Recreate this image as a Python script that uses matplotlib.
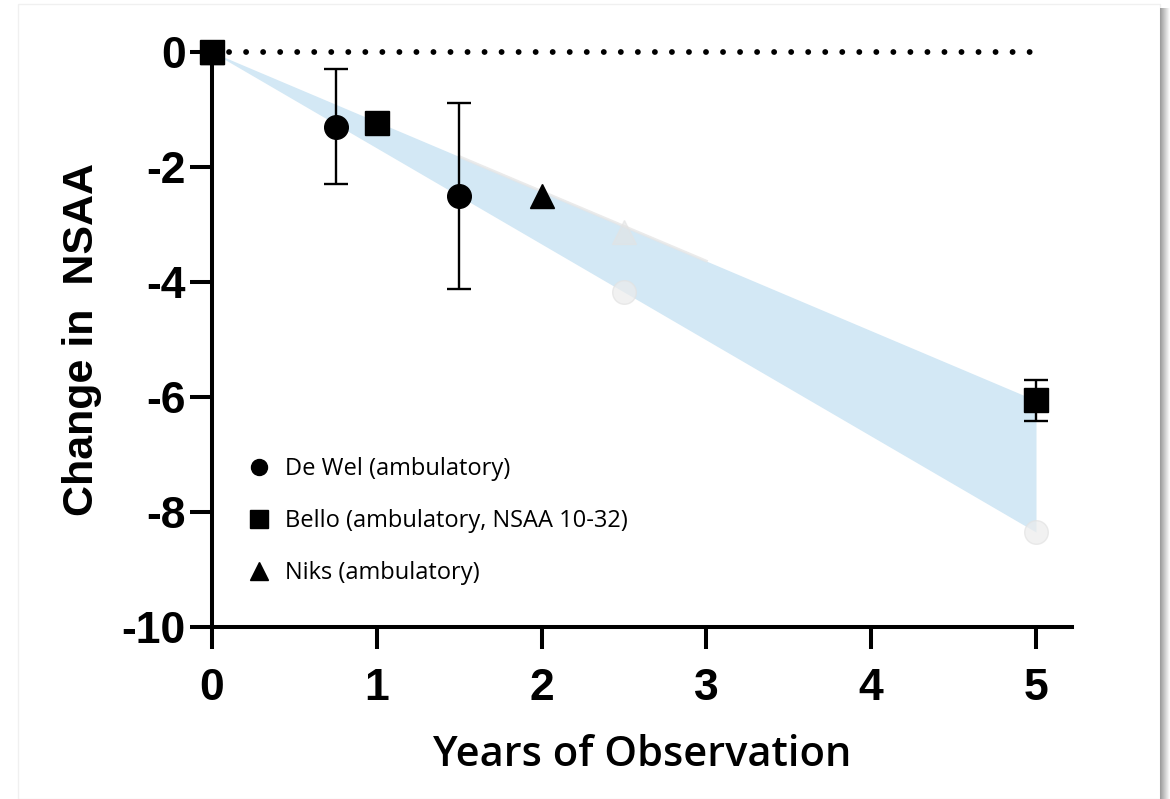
import matplotlib
matplotlib.use('Agg')
import matplotlib.pyplot as plt
import numpy as np
from matplotlib.lines import Line2D
from matplotlib.patches import Rectangle

# ---------------- data ----------------
dewel_x = [0, 0.75, 1.5]
dewel_y = [0, -1.3, -2.5]
dewel_err = [0, 1.0, 1.62]

bello_x = [0, 1, 5]
bello_y = [0, -1.23, -6.06]
bello_err = [0, 0, 0.35]

niks_x = [0, 2]
niks_y = [0, -2.5]

faint_tri_x = [2.5]
faint_tri_y = [-3.13]
faint_circ_x = [2.5, 5]
faint_circ_y = [-4.17, -8.35]

band_x = [0, 5]
band_upper = [0, -6.06]
band_lower = [0, -8.35]

edge_x = [1.5, 3.0]
edge_y = [-1.818, -3.636]

ref_x = [0, 4.97]
ref_y = [0, 0]

xticks = [0, 1, 2, 3, 4, 5]
yticks = [-10, -8, -6, -4, -2, 0]
legend_labels = ["De Wel (ambulatory)", "Bello (ambulatory, NSAA 10-32)", "Niks (ambulatory)"]

# ---------------- figure ----------------
W, H = 1170, 799
fig = plt.figure(figsize=(W / 100, H / 100), dpi=100)
fig.patch.set_facecolor('white')

# card outline + right shadow
card = Rectangle((18 / W, 0), (1160 - 18) / W, 1 - 4 / H, transform=fig.transFigure,
                 facecolor='white', edgecolor='#f0f0f0', lw=1.0, zorder=-5)
fig.patches.append(card)
sh = fig.add_axes([1160 / W, 0, 10 / W, 1 - 8 / H], zorder=-1)
grad = np.linspace(0.60, 1.0, 50).reshape(1, -1)
sh.imshow(grad, cmap='gray', vmin=0, vmax=1, aspect='auto', extent=[0, 1, 0, 1])
sh.axis('off')

ax = fig.add_axes([212 / W, 1 - 627 / H, 860 / W, 575 / H], zorder=2)
ax.set_facecolor('none')
ax.set_xlim(0, 860 / 164.8)
ax.set_ylim(-10, 0)

ms = 17
# band
ax.fill_between(band_x, band_upper, band_lower, color='#d3e8f5', lw=0, zorder=1)
ax.plot(edge_x, edge_y, color='#e6e6e6', lw=2.0, alpha=0.8, zorder=1.5)

# faint projected markers
ax.plot(faint_tri_x, faint_tri_y, ls='none', marker='^', ms=ms, color='#e3e3e3', alpha=0.6, zorder=2, clip_on=False)
ax.plot(faint_circ_x, faint_circ_y, ls='none', marker='o', ms=ms, color='#ececec', mec='#e2e2e2', alpha=0.7, zorder=2, clip_on=False)

# reference dotted line
ax.plot(ref_x, ref_y, color='black', lw=4.2, ls=(0, (0.01, 2.91)), dash_capstyle='round', zorder=3, clip_on=False)

eb_kw = dict(ls='none', ecolor='black', elinewidth=1.7, capsize=8.3, capthick=1.7, color='black', ms=ms, zorder=5)
e1 = ax.errorbar(dewel_x, dewel_y, yerr=dewel_err, marker='o', **eb_kw)
e2 = ax.errorbar(niks_x, niks_y, marker='^', **eb_kw)
e3 = ax.errorbar(bello_x, bello_y, yerr=bello_err, marker='s', **eb_kw)
for e in (e1, e2, e3):
    if e.lines[0] is not None:
        e.lines[0].set_clip_on(False)
    for art in list(e.lines[1]) + list(e.lines[2]):
        art.set_clip_on(False)

# spines / ticks
for s in ['top', 'right']:
    ax.spines[s].set_visible(False)
for s in ['left', 'bottom']:
    ax.spines[s].set_linewidth(2.9)
ax.set_xticks(xticks)
ax.set_yticks(yticks)
ax.set_xticklabels([str(v) for v in xticks])
ax.set_yticklabels([str(v) for v in yticks])
ax.tick_params(axis='both', length=15.5, width=2.9, direction='out')
ax.tick_params(axis='x', pad=14)
ax.tick_params(axis='y', pad=3.5)
for lab in ax.get_xticklabels() + ax.get_yticklabels():
    lab.set_fontfamily('Liberation Sans')
    lab.set_fontweight('bold')
    lab.set_fontsize(32)

ax.set_ylabel('Change in  NSAA', fontfamily='Liberation Sans', fontweight='bold', fontsize=31, labelpad=14)
ax.set_xlabel('Years of Observation', fontfamily='Open Sans', fontweight='semibold', fontsize=30, labelpad=18)

handles = [Line2D([], [], ls='none', marker='o', color='black', ms=11.5),
           Line2D([], [], ls='none', marker='s', color='black', ms=13),
           Line2D([], [], ls='none', marker='^', color='black', ms=13)]
leg = ax.legend(handles, legend_labels, loc='upper left', bbox_to_anchor=(23 / 860, (627 - 445) / 575),
                frameon=False, handlelength=1.0, handletextpad=0.6, labelspacing=1.2, borderpad=0,
                prop={'family': 'Open Sans', 'size': 17})

fig.savefig('out.png', dpi=100, facecolor='white')
